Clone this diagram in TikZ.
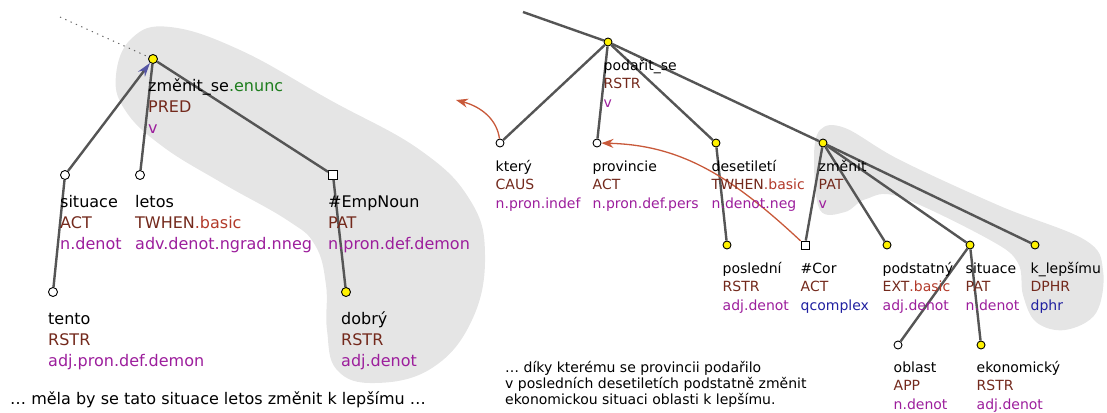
\documentclass[tikz,border=0pt]{standalone}
\usepackage{fontspec}
\setmainfont{DejaVu Sans}
\usepackage{xcolor}
\usepackage{tikz}
\usetikzlibrary{positioning,calc,arrows.meta}

\definecolor{fnbrown}{HTML}{73291C}
\definecolor{subred}{HTML}{B23A2A}
\definecolor{enuncgreen}{HTML}{1E7D1E}
\definecolor{sempurple}{HTML}{9C1E9C}
\definecolor{semblue}{HTML}{2020A0}
\definecolor{corefred}{HTML}{C8593A}
\definecolor{blobgray}{HTML}{E5E5E5}
\definecolor{edgegray}{HTML}{555555}
\definecolor{tipblue}{HTML}{5555A5}

\newcommand{\tfun}[1]{\textcolor{fnbrown}{#1}}
\newcommand{\tsub}[1]{\textcolor{subred}{#1}}
\newcommand{\tsem}[1]{\textcolor{sempurple}{#1}}
\newcommand{\tsemb}[1]{\textcolor{semblue}{#1}}

\tikzset{
  tnode/.style={circle, draw=black, line width=0.9pt, inner sep=0pt, minimum size=9pt},
  yel/.style={tnode, fill=yellow},
  wht/.style={tnode, fill=white},
  sqr/.style={rectangle, draw=black, line width=0.9pt, fill=white, inner sep=0pt, minimum size=9pt},
  rsize/.style={minimum size=8pt},
  edge/.style={draw=edgegray, line width=2.4pt},
  dotline/.style={draw=black!60, line width=1pt, dash pattern=on 1.3pt off 4.5pt},
  coref/.style={draw=corefred, line width=1.3pt, -{Stealth[length=12pt,width=9pt]}},
  lab/.style={anchor=base west, inner sep=0pt, align=left},
  bigtxt/.style={lab, font=\fontsize{16}{21.3}\selectfont},
  smalltxt/.style={lab, font=\fontsize{14}{18.5}\selectfont},
}

\begin{document}
\begin{tikzpicture}[x=1pt,y=-1pt]
    \useasboundingbox (0,0) rectangle (1107,412);

    % highlighted subtrees
    \fill[blobgray] plot[smooth cycle, tension=0.7] coordinates {(116,75) (132,38) (170,27) (240,50) (330,100) (420,150) (470,200) (485,255) (472,320) (432,368) (375,383) (337,370) (327,330) (326,285) (315,245) (287,220) (222,183) (162,146) (125,110)};
    \fill[blobgray] plot[smooth cycle, tension=0.6] coordinates {(814,160) (820,130) (845,128) (900,160) (1000,206) (1085,240) (1103,270) (1096,313) (1065,330) (1036,322) (1023,295) (1018,263) (990,240) (900,197) (866,199) (845,212) (820,210)};

    % left tree
    \node[yel] (zmenitse) at (153,59) {};
    \node[wht] (situace) at (65,175) {};
    \node[wht] (letos) at (140,175) {};
    \node[sqr] (empnoun) at (333,175) {};
    \node[wht] (tento) at (53,292) {};
    \node[yel] (dobry) at (346,292) {};
    \coordinate (dots) at (60,17);

    % right tree
    \coordinate (upper) at (523,12);
    \node[yel, rsize] (podarit) at (608,42) {};
    \node[wht, rsize] (ktery) at (500,143) {};
    \node[wht, rsize] (provincie) at (597,143) {};
    \node[yel, rsize] (desetileti) at (716,143) {};
    \node[yel, rsize] (zmenit) at (823,143) {};
    \node[yel, rsize] (posledni) at (727,245) {};
    \node[sqr, rsize] (cor) at (805,245) {};
    \node[yel, rsize] (podstatny) at (887,245) {};
    \node[yel, rsize] (situaceb) at (970,245) {};
    \node[yel, rsize] (klepsimu) at (1035,245) {};
    \node[wht, rsize] (oblast) at (898,345) {};
    \node[yel, rsize] (ekonomicky) at (981,345) {};
    \coordinate (ktery-ref) at (456,100);

    % edges
    \draw[dotline] (dots) -- (zmenitse);
    \draw[edge, -{Stealth[length=14pt,width=8.5pt,color=tipblue]}] (situace) -- (zmenitse);
    \draw[edge] (letos) -- (zmenitse);
    \draw[edge] (empnoun) -- (zmenitse);
    \draw[edge] (situace) -- (tento);
    \draw[edge] (empnoun) -- (dobry);

    \draw[edge] (upper) -- (podarit);
    \draw[edge] (podarit) -- (ktery);
    \draw[edge] (podarit) -- (provincie);
    \draw[edge] (podarit) -- (desetileti);
    \draw[edge] (podarit) -- (zmenit);
    \draw[edge] (desetileti) -- (posledni);
    \draw[edge] (zmenit) -- (cor);
    \draw[edge] (zmenit) -- (podstatny);
    \draw[edge] (zmenit) -- (situaceb);
    \draw[edge] (zmenit) -- (klepsimu);
    \draw[edge] (situaceb) -- (oblast);
    \draw[edge] (situaceb) -- (ekonomicky);

    % coreference
    \draw[coref] (ktery) .. controls (497,120) and (482,107) .. (ktery-ref);
    \draw[coref] (cor) .. controls (730,175) and (680,145) .. (provincie);

    % labels, left (base = last line)
    \node[bigtxt] (zmenitse-l) at ($(zmenitse)+(-5,74.6)$) {změnit\_se\textcolor{enuncgreen}{.enunc}\\\tfun{PRED}\\\tsem{v}};
    \node[bigtxt] (situace-l) at ($(situace)+(-5,74.6)$) {situace\\\tfun{ACT}\\\tsem{n.denot}};
    \node[bigtxt] (letos-l) at ($(letos)+(-5,74.6)$) {letos\\\tfun{TWHEN}\tsub{.basic}\\\tsem{adv.denot.ngrad.nneg}};
    \node[bigtxt] (empnoun-l) at ($(empnoun)+(-5,74.6)$) {\#EmpNoun\\\tfun{PAT}\\\tsem{n.pron.def.demon}};
    \node[bigtxt] (tento-l) at ($(tento)+(-5,74.6)$) {tento\\\tfun{RSTR}\\\tsem{adj.pron.def.demon}};
    \node[bigtxt] (dobry-l) at ($(dobry)+(-5,74.6)$) {dobrý\\\tfun{RSTR}\\\tsem{adj.denot}};

    % labels, right
    \node[smalltxt] (podarit-l) at ($(podarit)+(-4.5,65)$) {podařit\_se\\\tfun{RSTR}\\\tsem{v}};
    \node[smalltxt] (ktery-l) at ($(ktery)+(-4.5,65)$) {který\\\tfun{CAUS}\\\tsem{n.pron.indef}};
    \node[smalltxt] (provincie-l) at ($(provincie)+(-4.5,65)$) {provincie\\\tfun{ACT}\\\tsem{n.pron.def.pers}};
    \node[smalltxt] (desetileti-l) at ($(desetileti)+(-4.5,65)$) {desetiletí\\\tfun{TWHEN}\tsub{.basic}\\\tsem{n.denot.neg}};
    \node[smalltxt] (zmenit-l) at ($(zmenit)+(-4.5,65)$) {změnit\\\tfun{PAT}\\\tsem{v}};
    \node[smalltxt] (posledni-l) at ($(posledni)+(-4.5,65)$) {poslední\\\tfun{RSTR}\\\tsem{adj.denot}};
    \node[smalltxt] (cor-l) at ($(cor)+(-4.5,65)$) {\#Cor\\\tfun{ACT}\\\tsemb{qcomplex}};
    \node[smalltxt] (podstatny-l) at ($(podstatny)+(-4.5,65)$) {podstatný\\\tfun{EXT}\tsub{.basic}\\\tsem{adj.denot}};
    \node[smalltxt] (situaceb-l) at ($(situaceb)+(-4.5,65)$) {situace\\\tfun{PAT}\\\tsem{n.denot}};
    \node[smalltxt] (klepsimu-l) at ($(klepsimu)+(-4.5,65)$) {k\_lepšímu\\\tfun{DPHR}\\\tsemb{dphr}};
    \node[smalltxt] (oblast-l) at ($(oblast)+(-4.5,64)$) {oblast\\\tfun{APP}\\\tsem{n.denot}};
    \node[smalltxt] (ekonomicky-l) at ($(ekonomicky)+(-4.5,64)$) {ekonomický\\\tfun{RSTR}\\\tsem{adj.denot}};

    % sentences
    \node[bigtxt] (sent-left) at (10,404) {… měla by se tato situace letos změnit k lepšímu …};
    \node[lab, font=\fontsize{14}{16}\selectfont] (sent-right) at (505,404) {… díky kterému se provincii podařilo\\v posledních desetiletích podstatně změnit\\ekonomickou situaci oblasti k lepšímu.};
\end{tikzpicture}
\end{document}
